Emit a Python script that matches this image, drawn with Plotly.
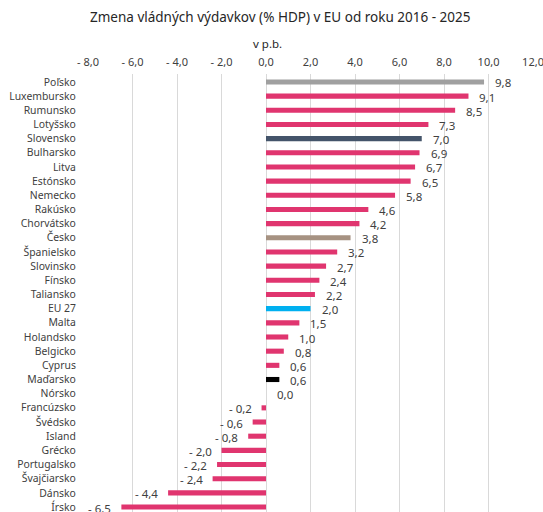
import plotly.graph_objects as go

countries = ["Poľsko", "Luxembursko", "Rumunsko", "Lotyšsko", "Slovensko", "Bulharsko",
             "Litva", "Estónsko", "Nemecko", "Rakúsko", "Chorvátsko", "Česko",
             "Španielsko", "Slovinsko", "Fínsko", "Taliansko", "EU 27", "Malta",
             "Holandsko", "Belgicko", "Cyprus", "Maďarsko", "Nórsko", "Francúzsko",
             "Švédsko", "Island", "Grécko", "Portugalsko", "Švajčiarsko", "Dánsko", "Írsko"]
values = [9.8, 9.1, 8.5, 7.3, 7.0, 6.9, 6.7, 6.5, 5.8, 4.6, 4.2, 3.8, 3.2, 2.7, 2.4, 2.2,
          2.0, 1.5, 1.0, 0.8, 0.6, 0.6, 0.0, -0.2, -0.6, -0.8, -2.0, -2.2, -2.4, -4.4, -6.5]
tick_vals = [-8, -6, -4, -2, 0, 2, 4, 6, 8, 10, 12]

PINK = "#E0356F"
special = {"Poľsko": "#A0A0A0", "Slovensko": "#44546A", "Česko": "#A69282",
           "EU 27": "#00B0F0", "Maďarsko": "#000000"}
colors = [special.get(c, PINK) for c in countries]


def fmt(v):
    s = f"{abs(v):.1f}".replace(".", ",")
    return f"- {s}" if v < 0 else s


fig = go.Figure()
fig.add_trace(go.Bar(
    x=values, y=countries, orientation="h", marker=dict(color=colors, line=dict(width=0)),
    width=0.36, hoverinfo="x+y"))

for c, v in zip(countries, values):
    fig.add_annotation(
        x=v, y=c, xref="x", yref="y", text=fmt(v), showarrow=False,
        xanchor="left" if v >= 0 else "right", xshift=9 if v >= 0 else -8, yshift=-1,
        font=dict(size=11.5, color="#404040"))

# figure is a bit wider than the window so the last tick label is not dropped
L, R, T, B = 88, 27, 74, 0
W, H = 560, 512
pw, ph = W - L - R, H - T - B

fig.add_annotation(x=(280 - L) / pw, y=1 + (T - 17) / ph, xref="paper", yref="paper",
                   text="Zmena vládných výdavkov (% HDP) v EU od roku 2016 - 2025",
                   showarrow=False, xanchor="center", yanchor="middle",
                   font=dict(size=13.5, color="#262626"))
fig.add_annotation(x=(267 - L) / pw, y=1 + (T - 44) / ph, xref="paper", yref="paper",
                   text="v p.b.", showarrow=False, xanchor="center", yanchor="middle",
                   font=dict(size=11.5, color="#262626"))

fig.update_layout(
    width=W, height=H,
    margin=dict(l=L, r=R, t=T, b=B, autoexpand=False),
    paper_bgcolor="white", plot_bgcolor="white",
    font=dict(family="Noto Sans, Open Sans, sans-serif", size=11, color="#404040"),
    showlegend=False,
)

fig.update_xaxes(
    side="top", range=[-8, 12], tickvals=tick_vals, ticktext=[fmt(v) for v in tick_vals],
    showgrid=True, gridcolor="#D9D9D9", gridwidth=1, zeroline=False, showline=False,
    ticks="outside", ticklen=3, tickcolor="rgba(0,0,0,0)", automargin=False,
    ticklabeloverflow="allow",
    tickfont=dict(size=11, color="#404040"), fixedrange=True)
fig.update_yaxes(
    type="category", categoryorder="array", categoryarray=countries,
    range=[len(countries) - 1 + 0.35, -0.56], showgrid=False, zeroline=False, showline=False,
    ticks="outside", ticklen=9, tickcolor="rgba(0,0,0,0)", automargin=False,
    ticklabeloverflow="allow",
    tickfont=dict(size=10.4, color="#404040"), fixedrange=True)

fig.write_html("out.html", config={"displayModeBar": False, "staticPlot": True},
               post_script="document.body.style.margin='0';document.body.style.overflow='hidden';")
